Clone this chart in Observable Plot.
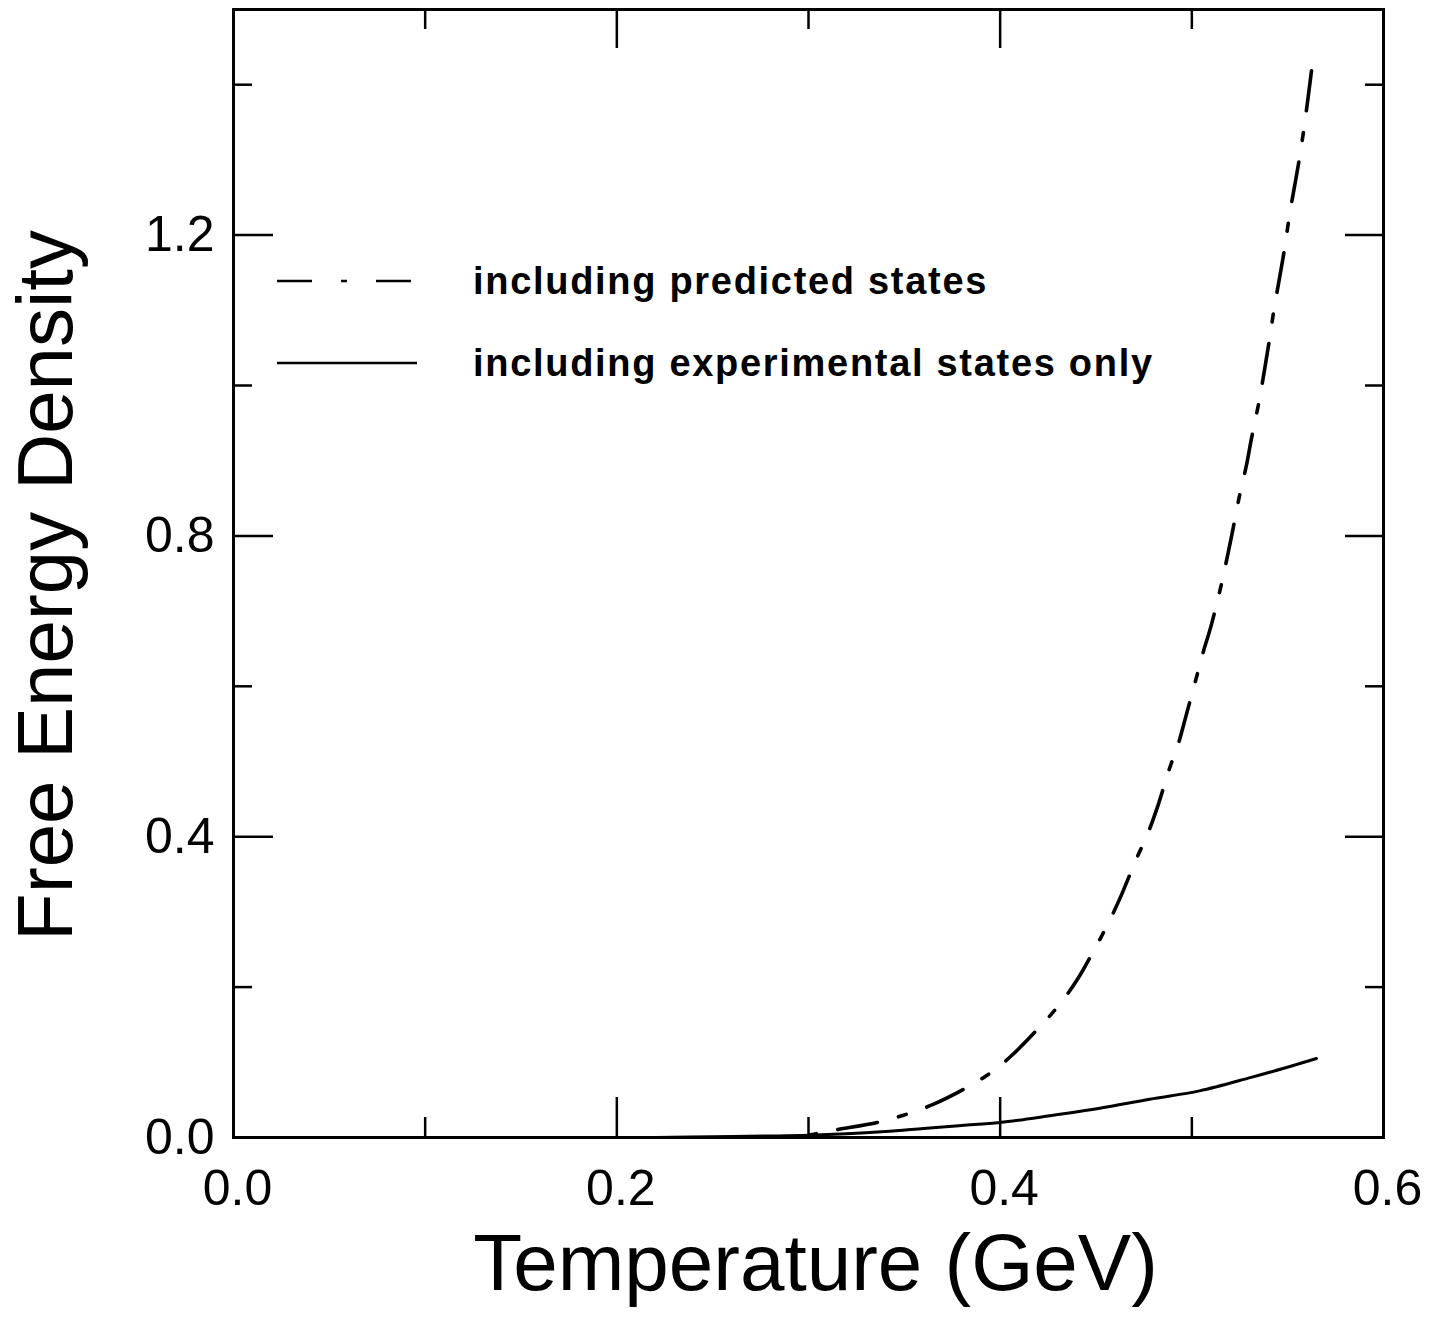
<!DOCTYPE html>
<html>
<head>
<meta charset="utf-8">
<script src="https://cdn.jsdelivr.net/npm/d3@7"></script>
<script src="https://cdn.jsdelivr.net/npm/@observablehq/plot@0.6"></script>
<style>
  html, body { margin: 0; padding: 0; background: #fff; }
  #wrap { position: relative; width: 1446px; height: 1319px; }
  #legend { position: absolute; left: 0; top: 0; pointer-events: none; }
  #legend text { font-family: "Liberation Sans", Arial, Helvetica, sans-serif; font-weight: bold; font-size: 38px; letter-spacing: 1.7px; fill: #000; }
</style>
</head>
<body>
<div id="wrap"></div>
<script>
// ---- data ----
const tPredicted = [0.300, 0.314, 0.336, 0.350, 0.365, 0.383, 0.395, 0.406, 0.421, 0.431, 0.440, 0.450, 0.457, 0.463, 0.471, 0.477, 0.482, 0.488, 0.493, 0.497, 0.502, 0.506, 0.510, 0.515, 0.518, 0.521, 0.525, 0.5285, 0.531, 0.535, 0.540, 0.543, 0.548, 0.551, 0.556, 0.559, 0.563];
const fPredicted = [0.003, 0.010, 0.020, 0.030, 0.044, 0.067, 0.086, 0.109, 0.148, 0.177, 0.209, 0.254, 0.288, 0.321, 0.370, 0.404, 0.439, 0.488, 0.524, 0.561, 0.608, 0.646, 0.680, 0.731, 0.766, 0.803, 0.855, 0.894, 0.928, 0.978, 1.053, 1.103, 1.176, 1.227, 1.300, 1.351, 1.430];

const tExperimental = [0.22, 0.25, 0.28, 0.30, 0.32, 0.34, 0.36, 0.38, 0.40, 0.426, 0.452, 0.478, 0.504, 0.531, 0.548, 0.565];
const fExperimental = [0.000, 0.001, 0.002, 0.003, 0.005, 0.008, 0.012, 0.016, 0.020, 0.029, 0.039, 0.051, 0.062, 0.080, 0.092, 0.105];

const xMajorTicks = [0.0, 0.2, 0.4, 0.6];
const xMinorTicks = [0.1, 0.3, 0.5];
const yMajorTicks = [0.0, 0.4, 0.8, 1.2];
const yMinorTicks = [0.2, 0.6, 1.0, 1.4];

const xTitle = "Temperature (GeV)";
const yTitle = "Free Energy Density";
const seriesNames = ["including predicted states", "including experimental states only"];

// ---- tables ----
const predicted = tPredicted.map((t, i) => ({t, f: fPredicted[i]}));
const experimental = tExperimental.map((t, i) => ({t, f: fExperimental[i]}));
const fmt = d3.format(".1f");

const tickOpts = {stroke: "black", strokeWidth: 2.5, text: null, label: null};

const chart = Plot.plot({
  width: 1446,
  height: 1319,
  marginLeft: 233,
  marginRight: 63,
  marginTop: 9,
  marginBottom: 182,
  x: {domain: [0, 0.6]},
  y: {domain: [0, 1.5]},
  style: {fontFamily: "'Liberation Sans', Arial, Helvetica, sans-serif", background: "white", color: "black"},
  marks: [
    // inward ticks on all four sides
    Plot.axisX(xMajorTicks, {...tickOpts, anchor: "bottom", tickSize: -40}),
    Plot.axisX(xMinorTicks, {...tickOpts, anchor: "bottom", tickSize: -20}),
    Plot.axisX(xMajorTicks, {...tickOpts, anchor: "top", tickSize: -38}),
    Plot.axisX(xMinorTicks, {...tickOpts, anchor: "top", tickSize: -19}),
    Plot.axisY(yMajorTicks, {...tickOpts, anchor: "left", tickSize: -40}),
    Plot.axisY(yMinorTicks, {...tickOpts, anchor: "left", tickSize: -19}),
    Plot.axisY(yMajorTicks, {...tickOpts, anchor: "right", tickSize: -39}),
    Plot.axisY(yMinorTicks, {...tickOpts, anchor: "right", tickSize: -19}),
    // tick labels
    Plot.axisX(xMajorTicks, {anchor: "bottom", tickSize: 0, tickPadding: 32, fontSize: 50, tickFormat: fmt, label: null, dx: 4}),
    Plot.axisY(yMajorTicks, {anchor: "left", tickSize: 0, tickPadding: 19, fontSize: 50, tickFormat: fmt, label: null}),
    // axis titles
    Plot.text([xTitle], {frameAnchor: "bottom", text: d => d, fontSize: 80, textAnchor: "middle", lineAnchor: "middle", dy: 127, dx: 7}),
    Plot.text([yTitle], {frameAnchor: "left", text: d => d, fontSize: 78, textAnchor: "middle", lineAnchor: "middle", rotate: -90, dx: -186, dy: 12}),
    // curves
    Plot.line(experimental, {x: "t", y: "f", stroke: "black", strokeWidth: 3, curve: "catmull-rom"}),
    Plot.line(predicted, {x: "t", y: "f", stroke: "black", strokeWidth: 3.6, curve: "catmull-rom",
      strokeDasharray: "40,22,8,22", strokeDashoffset: 62, strokeLinecap: "round"}),
    Plot.frame({stroke: "black", strokeWidth: 3})
  ]
});

const wrap = document.getElementById("wrap");
wrap.appendChild(chart);

// legend (inside the plot area, upper left)
const ns = "http://www.w3.org/2000/svg";
const leg = document.createElementNS(ns, "svg");
leg.setAttribute("id", "legend");
leg.setAttribute("width", 1446);
leg.setAttribute("height", 1319);
const rows = [
  {name: seriesNames[0], dash: "35,29,6,29", y: 281},
  {name: seriesNames[1], dash: null, y: 363}
];
rows.forEach(r => {
  const ln = document.createElementNS(ns, "line");
  ln.setAttribute("x1", 277); ln.setAttribute("x2", 417);
  ln.setAttribute("y1", r.y); ln.setAttribute("y2", r.y);
  ln.setAttribute("stroke", "black");
  ln.setAttribute("stroke-width", 2.5);
  if (r.dash) ln.setAttribute("stroke-dasharray", r.dash);
  leg.appendChild(ln);
  const tx = document.createElementNS(ns, "text");
  tx.setAttribute("x", 473);
  tx.setAttribute("y", r.y + 13);
  tx.textContent = r.name;
  leg.appendChild(tx);
});
wrap.appendChild(leg);
</script>
</body>
</html>
